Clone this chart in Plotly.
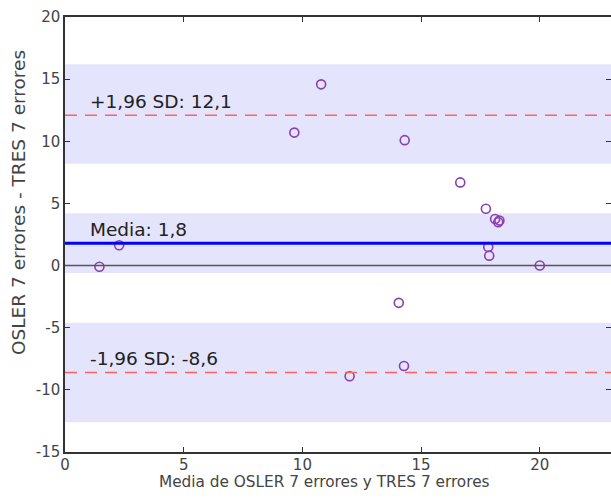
import plotly.graph_objects as go

# Data (Bland-Altman)
mean_vals = [1.45, 2.28, 9.66, 10.79, 11.99, 14.06, 14.31, 14.28, 16.65, 17.73, 17.83, 17.87, 18.12, 18.25, 18.30, 20.0]
diff_vals = [-0.1, 1.63, 10.70, 14.58, -8.91, -3.0, 10.09, -8.08, 6.69, 4.57, 1.50, 0.80, 3.75, 3.48, 3.62, 0.0]

bias = 1.8
upper_loa = 12.1
lower_loa = -8.6
bias_ci = [-0.6, 4.2]
upper_ci = [8.2, 16.2]
lower_ci = [-12.6, -4.6]

labels = ["+1,96 SD: 12,1", "Media: 1,8", "-1,96 SD: -8,6"]
x_title = "Media de OSLER 7 errores y TRES 7 errores"
y_title = "OSLER 7 errores - TRES 7 errores"
x_range = [0, 23]
y_range = [-15, 20]
x_ticks = [0, 5, 10, 15, 20]
x_ticktext = ["0", "5", "10", "15", "20"]
y_ticks = [-15, -10, -5, 0, 5, 10, 15, 20]
y_ticktext = ["-15", "-10", "-5", "0", "5", "10", "15", "20"]

band_color = "rgba(0,0,230,0.105)"

fig = go.Figure()

shapes = []
for lo, hi in [upper_ci, bias_ci, lower_ci]:
    shapes.append(dict(type="rect", xref="paper", yref="y", x0=0, x1=1, y0=lo, y1=hi,
                       fillcolor=band_color, line=dict(width=0), layer="below"))
shapes.append(dict(type="line", xref="paper", yref="y", x0=0, x1=1, y0=0, y1=0,
                   line=dict(color="#555555", width=1.5)))
shapes.append(dict(type="line", xref="paper", yref="y", x0=0, x1=1, y0=bias, y1=bias,
                   line=dict(color="#0000ff", width=3)))
for v in [upper_loa, lower_loa]:
    shapes.append(dict(type="line", xref="paper", yref="y", x0=0, x1=1, y0=v, y1=v,
                       line=dict(color="#ff6060", width=1.6, dash="12px,8px")))

fig.add_trace(go.Scatter(
    x=mean_vals, y=diff_vals, mode="markers",
    marker=dict(symbol="circle-open", size=9, color="#8c3fb0", line=dict(width=1.6, color="#8c3fb0")),
    showlegend=False, cliponaxis=False,
))

annotations = []
for txt, yv in zip(labels, [upper_loa, bias, lower_loa]):
    annotations.append(dict(x=0.95, xref="x", y=yv, yref="y", text=txt, showarrow=False,
                            xanchor="left", yanchor="bottom", yshift=1,
                            font=dict(family="DejaVu Sans", size=18.5, color="#222222")))
# axis titles placed as annotations for exact placement
annotations.append(dict(x=-0.0861, xref="paper", y=0.5747, yref="paper", text=y_title,
                        textangle=-90, showarrow=False, xanchor="center", yanchor="middle",
                        font=dict(family="DejaVu Sans", size=18.5, color="#444444")))
annotations.append(dict(x=0.476, xref="paper", y=-0.0690, yref="paper", text=x_title,
                        showarrow=False, xanchor="center", yanchor="middle",
                        font=dict(family="DejaVu Sans", size=15.3, color="#444444")))

axis_common = dict(ticks="inside", ticklen=5, tickcolor="#333333", tickwidth=1,
                   showline=True, linecolor="#333333", linewidth=1.5, mirror="ticks",
                   showgrid=False, zeroline=False, automargin=False,
                   tickfont=dict(family="DejaVu Sans", size=15, color="#444444"))

fig.update_layout(
    width=611, height=498,
    margin=dict(l=65, r=0, t=17, b=46),
    plot_bgcolor="white", paper_bgcolor="white",
    shapes=shapes, annotations=annotations,
    font=dict(family="DejaVu Sans", color="#444444", size=15),
    xaxis=dict(range=x_range, tickvals=x_ticks, ticktext=x_ticktext, ticklabelstandoff=-2, **axis_common),
    yaxis=dict(range=y_range, tickvals=y_ticks, ticktext=y_ticktext, **axis_common),
)

fig.write_html("out.html", config={"displayModeBar": False},
               post_script="document.body.style.margin='0';document.body.style.overflow='hidden';")
